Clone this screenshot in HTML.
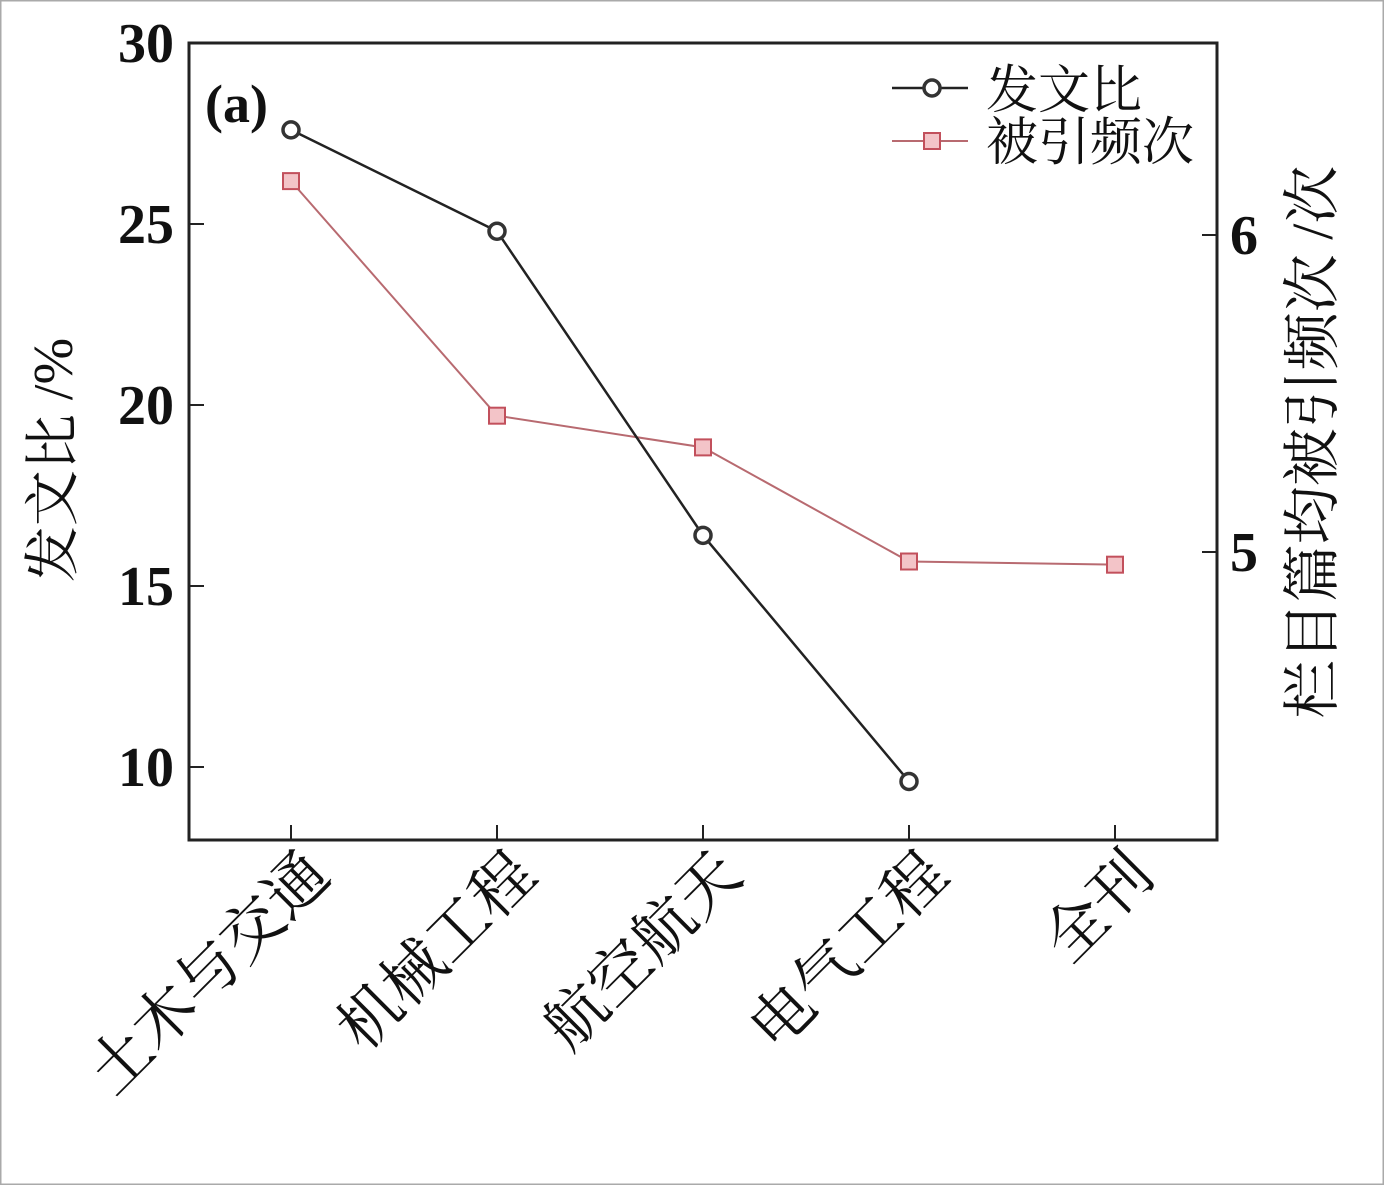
<!DOCTYPE html>
<html><head><meta charset="utf-8"><style>
html,body{margin:0;padding:0;background:#fff}
svg{display:block}
text{font-family:"Liberation Serif","Noto Serif CJK SC",serif;fill:#111}
.cjk{font-family:"Liberation Serif","Noto Serif CJK SC",serif}
</style></head><body>
<svg id="chart" width="1384" height="1185" viewBox="0 0 1384 1185" xmlns="http://www.w3.org/2000/svg">
<rect x="0.5" y="0.5" width="1383" height="1184" fill="#fff" stroke="#aaa" stroke-width="2"/>
<rect x="189" y="43" width="1028" height="797" fill="none" stroke="#222" stroke-width="3"/>
<text x="205" y="122" font-size="54" font-weight="bold">(a)</text>
<text class="cjk" transform="translate(72,460) rotate(-90)" text-anchor="middle" font-size="56">发文比 /%</text>
<text class="cjk" transform="translate(1332,442) rotate(-90)" text-anchor="middle" font-size="58">栏目篇均被引频次 /次</text>
<g id="axes"></g>
<g id="series"></g>
<g id="legend">
<line x1="892" y1="88" x2="968" y2="88" stroke="#222" stroke-width="2.5"/>
<circle cx="932" cy="88" r="8" fill="#fff" stroke="#333" stroke-width="3.5"/>
<text class="cjk" x="986" y="108" font-size="52">发文比</text>
<line x1="892" y1="141" x2="968" y2="141" stroke="#b86a70" stroke-width="2"/>
<rect x="924" y="133" width="16" height="16" fill="#f3c4c8" stroke="#c2505c" stroke-width="2"/>
<text class="cjk" x="986" y="160" font-size="52">被引频次</text>
</g>
</svg>
<script>
const categories = ["土木与交通","机械工程","航空航天","电气工程","全刊"];
const pubRatio = [27.6, 24.8, 16.4, 9.6];
const citations = [6.17, 5.43, 5.33, 4.97, 4.96];
const leftTicks = [10, 15, 20, 25, 30];
const rightTicks = [5, 6];

const NS = "http://www.w3.org/2000/svg";
const x = i => 291 + i * 206;
const yL = v => 767 - (v - 10) * 36.2;
const yR = v => 552 - (v - 5) * 317;
function mk(tag, attrs, parent) {
  const e = document.createElementNS(NS, tag);
  for (const k in attrs) e.setAttribute(k, attrs[k]);
  parent.appendChild(e); return e;
}
const axes = document.getElementById('axes');
const series = document.getElementById('series');
leftTicks.forEach(v => {
  const l = mk('line', {x1:189, x2:204, y1:yL(v), y2:yL(v), stroke:'#222', 'stroke-width':2}, axes);
  
  
  const t = mk('text', {x:174, y:yL(v) + 19, 'text-anchor':'end', 'font-size':56, 'font-weight':'bold'}, axes);
  t.textContent = v;
  
  
});
rightTicks.forEach(v => {
  const l = mk('line', {x1:1202, x2:1217, y1:yR(v), y2:yR(v), stroke:'#222', 'stroke-width':2}, axes);
  
  
  const t = mk('text', {x:1230, y:yR(v) + 19, 'font-size':56, 'font-weight':'bold'}, axes);
  t.textContent = v;
  
  
});
categories.forEach((c, i) => {
  const l = mk('line', {x1:x(i), x2:x(i), y1:840, y2:825, stroke:'#222', 'stroke-width':2}, axes);
  
  
  const t = mk('text', {transform:`translate(${x(i)+42},878) rotate(-45)`, 'text-anchor':'end', 'font-size':62, class:'cjk'}, axes);
  t.textContent = c;
  
  
});
function drawLine(vals, yf, color, w, name) {
  const pts = vals.map((v, i) => x(i) + ',' + yf(v)).join(' ');
  const p = mk('polyline', {points:pts, fill:'none', stroke:color, 'stroke-width':w}, series);
  
  
}
drawLine(citations, yR, '#b86a70', 2, 'citation-line');
drawLine(pubRatio, yL, '#222', 2.5, 'publication-ratio-line');
citations.forEach((v, i) => {
  const r = mk('rect', {x:x(i)-8, y:yR(v)-8, width:16, height:16, fill:'#f3c4c8', stroke:'#c2505c', 'stroke-width':2}, series);
  
  
});
pubRatio.forEach((v, i) => {
  const c = mk('circle', {cx:x(i), cy:yL(v), r:8, fill:'#fff', stroke:'#333', 'stroke-width':3.5}, series);
  
  
});
</script>
</body></html>
